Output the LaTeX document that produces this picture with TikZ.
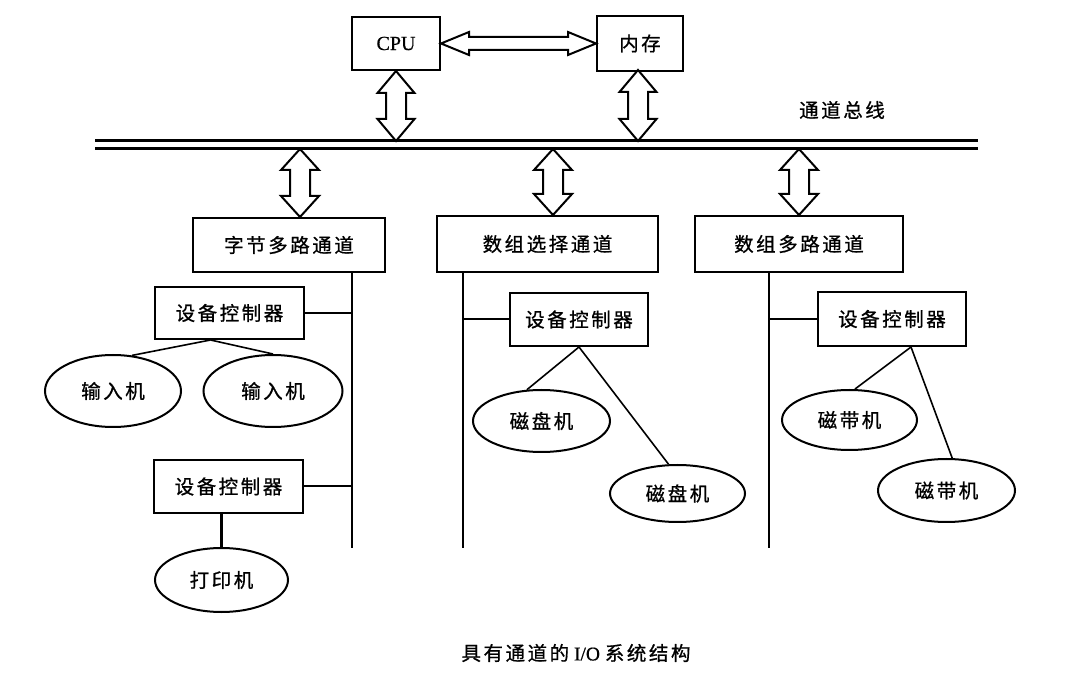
\documentclass[tikz,border=0pt]{standalone}
\usepackage{fontspec}
\setmainfont{Liberation Serif}[FakeBold=0.6]
\newfontfamily\cjk{Noto Sans CJK SC}[LetterSpace=13,FakeBold=0.8]
\usetikzlibrary{calc,shapes.geometric}
\newcommand{\fatarr}[5]{%
  \coordinate (faA) at ($(#1)!#5!(#2)$);
  \coordinate (faB) at ($(#2)!#5!(#1)$);
  \draw[arrowline] (#1) -- ($(faA)!#4!90:(#2)$) -- ($(faA)!#3!90:(#2)$)
    -- ($(faB)!#3!-90:(#1)$) -- ($(faB)!#4!-90:(#1)$) -- (#2)
    -- ($(faB)!#4!90:(#1)$) -- ($(faB)!#3!90:(#1)$)
    -- ($(faA)!#3!-90:(#2)$) -- ($(faA)!#4!-90:(#2)$) -- cycle;
}
\tikzset{
  box/.style={draw, line width=2pt, rectangle, inner sep=0pt, font=\cjk\fontsize{19.5}{21}\selectfont},
  oval/.style={draw, line width=2pt, ellipse, inner sep=0pt, font=\cjk\fontsize{19.5}{21}\selectfont},
  arrowline/.style={draw, line width=2pt, fill=white, line join=miter},
  bus/.style={line width=3pt},
  vline/.style={line width=2.5pt},
  hline/.style={line width=2pt},
  dline/.style={line width=1.6pt},
  lbl/.style={inner sep=0pt, font=\cjk\fontsize{19.5}{21}\selectfont}
}
\begin{document}
\begin{tikzpicture}[x=1pt,y=-1pt]
\useasboundingbox[fill=white] (0,0) rectangle (1080,684);
% top boxes
\node[box, minimum width=88pt, minimum height=53pt, font=\fontsize{20}{22}\selectfont] (cpu) at (396,43.5) {CPU};
\node[box, minimum width=86pt, minimum height=55pt] (mem) at (640,43.5) {内存};
% bus
\coordinate (busL) at (95,141);
\coordinate (busR) at (978,141);
\coordinate (busL2) at (95,149);
\coordinate (busR2) at (978,149);
\draw[bus] (busL) -- (busR);
\draw[bus] (busL2) -- (busR2);
\node[lbl] (buslbl) at (842,110) {通道总线};
% channels
\node[box, minimum width=192pt, minimum height=54pt] (ch1) at (289,245) {字节多路通道};
\node[box, minimum width=221pt, minimum height=56pt] (ch2) at (547.5,244) {数组选择通道};
\node[box, minimum width=208pt, minimum height=56pt] (ch3) at (799,244) {数组多路通道};
% arrows
\coordinate (u1) at (cpu.south |- busL);
\coordinate (u2) at (638,141);
\coordinate (m2) at (638,70);
\fatarr{cpu.east}{mem.west}{6.5pt}{11.5pt}{28pt}
\fatarr{cpu.south}{u1}{10pt}{18.5pt}{22pt}
\fatarr{m2}{u2}{10pt}{18.5pt}{22pt}
\coordinate (d1) at (300,149);
\coordinate (d2) at (553,149);
\coordinate (d3) at (799,149);
\coordinate (e1) at (d1 |- ch1.north);
\coordinate (e2) at (d2 |- ch2.north);
\coordinate (e3) at (d3 |- ch3.north);
\fatarr{d1}{e1}{10pt}{19pt}{21pt}
\fatarr{d2}{e2}{10pt}{19pt}{21pt}
\fatarr{d3}{e3}{10pt}{19pt}{21pt}
% channel trunks
\coordinate (t1) at (352,548);
\coordinate (t2) at (463,548);
\coordinate (t3) at (769,548);
\draw[vline] (t1 |- ch1.south) -- (t1);
\draw[vline] (t2 |- ch2.south) -- (t2);
\draw[vline] (t3 |- ch3.south) -- (t3);
% device controllers
\node[box, minimum width=149pt, minimum height=52pt] (dc1) at (229.5,313) {设备控制器};
\node[box, minimum width=149pt, minimum height=53pt] (dc2) at (228.5,486.5) {设备控制器};
\node[box, minimum width=138pt, minimum height=53pt] (dc3) at (579,319.5) {设备控制器};
\node[box, minimum width=148pt, minimum height=54pt] (dc4) at (892,319) {设备控制器};
\draw[hline] (dc1.east) -- (t1 |- dc1.east);
\draw[hline] (dc2.east) -- (t1 |- dc2.east);
\draw[hline] (dc3.west) -- (t2 |- dc3.west);
\draw[hline] (dc4.west) -- (t3 |- dc4.west);
% devices
\node[oval, minimum width=136pt, minimum height=72pt] (in1) at (113,391) {输入机};
\node[oval, minimum width=139pt, minimum height=72pt] (in2) at (273,391) {输入机};
\node[oval, minimum width=133pt, minimum height=64pt] (pr) at (221.5,580) {打印机};
\node[oval, minimum width=137pt, minimum height=62pt] (dk1) at (541.5,421) {磁盘机};
\node[oval, minimum width=135pt, minimum height=57pt] (dk2) at (677.5,493.5) {磁盘机};
\node[oval, minimum width=135pt, minimum height=60pt] (tp1) at (849.5,420) {磁带机};
\node[oval, minimum width=137pt, minimum height=63pt] (tp2) at (946.5,490.5) {磁带机};
% device links
\coordinate (f1) at ($(dc1.south)+(-19,0)$);
\draw[dline] (f1) -- (in1.62);
\draw[dline] (f1) -- (in2.north);
\draw[vline] (pr.north |- dc2.south) -- (pr.north);
\draw[dline] (dc3.south) -- (dk1.115);
\draw[dline] (dc3.south) -- (dk2.107);
\coordinate (f4) at ($(dc4.south)+(19,0)$);
\draw[dline] (f4) -- (tp1.80);
\draw[dline] (f4) -- (tp2.80);
% caption
\node[inner sep=0pt, font=\fontsize{19.5}{21}\selectfont] (cap) at (576,653) {{\cjk 具有通道的} I/O {\cjk 系统结构}};
\end{tikzpicture}
\end{document}
